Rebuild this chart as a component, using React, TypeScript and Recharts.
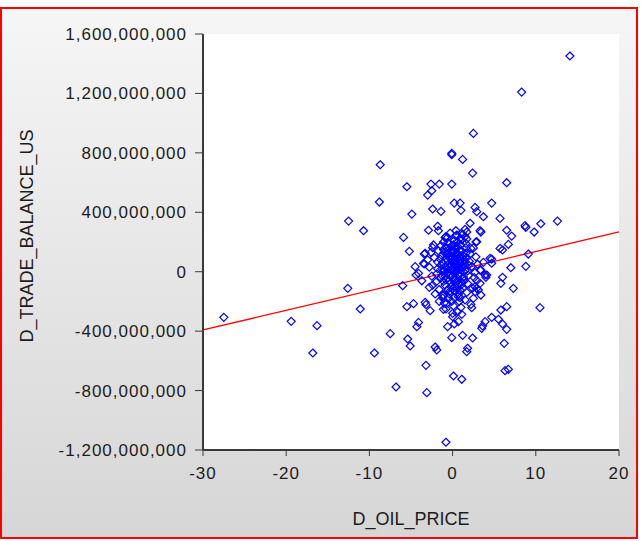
import React from 'react';
import {
  CartesianGrid,
  Label,
  ReferenceLine,
  Scatter,
  ScatterChart,
  XAxis,
  YAxis,
} from 'recharts';

// change in oil price (x) and change in US trade balance, in millions (y)
const dOilPrice = [
  14.1, 8.3, 2.5, -0.1, -0.1, 1.2, -8.7, 2.4, -5.5, -2.6, -1.6, -0.1, 6.5, -2.5, -3.0, -8.8, 0.2, 0.9, 2.7, 2.9,
  4.7, -2.4, -1.4, 1.0, -4.9, 3.7, 5.7, -12.5, -10.7, 12.6, 10.6, 8.7, 8.8, 9.8, 6.5, 7.1, 3.4, 2.1, -1.8, -2.9,
  -5.9, -0.6, 0.4, 1.5, 1.7, 1.1, -5.2, -3.4, 6.0, 6.7, 2.8, 9.1, 8.8, 7.0, 4.7, 3.7, 3.4, 4.0, 6.0, 5.8,
  7.3, -12.6, -6.0, -4.1, -4.4, -3.7, -2.8, -27.5, -19.4, -16.3, -16.8, -11.1, -9.4, -7.5, -6.8, -5.5, -4.7, -3.2, -2.7, -1.1,
  -0.7, -1.2, -4.1, -4.3, -5.4, -5.1, -3.2, -3.1, -2.1, -1.9, -0.6, 0.0, 0.2, 0.7, 1.1, -0.1, 1.2, 2.4, 1.8, 1.7,
  0.1, 1.1, -0.8, 2.3, 3.4, 2.9, 2.7, 4.7, 3.9, 3.6, 3.5, 5.5, 6.0, 6.5, 5.8, 6.5, 10.5, 6.2, 6.3, 6.7,
  5.7, 2.9, 2.2, -2.4, -3.3, -3.4, -4.5, 4.5, 4.1, 3.3, -1.1, 2.5, -3.3, -3.5, -0.8, -1.7, 3.3, 3.3, 3.9, 0.9,
  1.5, 0.5, 4.7, 2.7, 3.1, 0.7,
  // dense cluster around zero
  -0.5, 0.3, 0.8, -1.2, 1.5, -0.2, 0.6, -0.9, 1.1, 0.1, -1.8, 2.0, -0.4, 0.4, 1.3, -1.4, 0.9, -0.7, 0.2, 1.6,
  -2.2, 2.3, -0.1, 0.5, -1.0, 1.8, -0.3, 0.7, -1.6, 1.2, -2.5, 2.6, 0.0, -0.6, 1.0, -1.3, 0.3, -0.8, 1.4, -0.1,
  0.6, -1.1, 2.1, -2.0, 0.8, -0.5, 1.7, -1.7, 0.4, -0.3, -2.8, 2.8, 0.1, 1.0, -1.0, 0.2, -0.2, 0.9, -0.9, 1.9,
  -1.5, 0.5, 0.0, -0.4, 0.7, 1.3, -1.9, 2.4, -2.3, 0.3, 1.1, -0.6, -1.2, 1.5, 0.0, 0.6, -0.8, 2.2, -2.6, 2.7,
  0.2, -0.1, 0.4, -0.3, 0.8, -0.7, 1.2, -1.1, 0.5, -0.5, 0.1, 1.6, -1.4, 0.9, -0.2, 1.8, -1.8, 0.6, -0.9, 1.4,
  -2.1, 2.5, 0.3, -0.4, 1.0, -1.3, 0.7, -0.6, 0.2, 1.2, -3.0, 3.0, -2.4, 2.9, 0.0, 0.9, -1.6, 1.7, -0.1, 0.5,
  -0.3, 0.5, 1.1, -1.0, 0.2, 0.8, -0.6, 1.4, -0.2, 0.4, 1.0, -0.8, 0.0, 0.6, -1.3, 1.7, -0.4, 0.3, 0.9, -0.7,
  1.3, -1.1, 0.1, 0.7, -0.5, 1.5, -0.1, 0.4, 1.2, -0.9, 0.2, 0.8, -1.4, 1.9, -0.2, 0.6, 1.0, -0.6, 0.3, 1.6,
];

const dTradeBalanceM = [
  1452, 1209, 931, 797, 788, 756, 720, 664, 572, 590, 590, 590, 599, 545, 516, 469, 462, 462, 433, 404,
  462, 422, 406, 413, 388, 370, 359, 341, 276, 341, 323, 310, 299, 267, 279, 240, 267, 326, 306, 279,
  231, 231, 276, 285, 267, 258, 137, 119, 146, 184, 200, 119, 36, 27, 85, 63, 11, -38, -38, -78,
  -112, -112, -94, -11, -22, -61, -105, -307, -334, -363, -547, -251, -547, -417, -776, -235, -215, -222, -262, -253,
  -213, -177, -341, -370, -453, -500, -630, -814, -507, -527, -370, -303, -352, -336, -287, -444, -428, -446, -515, -538,
  -702, -724, -1148, -242, -157, -112, -135, -307, -336, -365, -381, -320, -352, -388, -258, -235, -242, -482, -666, -657,
  157, 202, 157, 162, 124, 52, 34, 90, -22, -78, -157, -179, -206, 56, 236, 276, 276, 11, -22, 225,
  236, 247, 57, -101, -123, -168,
  // dense cluster around zero
  120, 85, 40, 60, 10, -20, -60, -90, 140, 180, 20, 70, 30, -5, -35, -40, 100, 160, 210, 190,
  95, 35, 65, 130, 5, -80, -130, -150, -120, -110, -30, -40, 0, 75, 55, 110, -95, -55, 80, 150,
  170, 200, 120, -70, -200, -180, -140, 140, 240, 260, 30, 100, -230, -240, -210, 110, 45, 15, 35, 45,
  85, 25, 90, -60, -25, 105, -15, -110, 180, 155, 215, 195, -160, -190, -280, -270, -250, -220, 130, -5,
  60, 10, 50, 95, 70, -10, 30, -65, -110, 100, -45, 160, 175, -175, -100, 5, 65, 200, 230, -60,
  -150, 160, 20, -150, -90, 20, 115, 140, -175, 250, 80, 50, -90, -60, 130, -125, -200, 220, -200, -40,
  40, 115, -70, 130, 75, -20, 20, 50, -75, 165, 85, 90, -115, 35, -25, 95, 190, -130, 55, 120,
  0, 150, 140, -85, -5, 65, 175, 5, -45, -30, -60, 145, 45, -25, 15, 90, 180, -120, 70, 125,
];

const xTicks = [-30, -20, -10, 0, 10, 20];
const yTicks = [-1200000000, -800000000, -400000000, 0, 400000000, 800000000, 1200000000, 1600000000];

// least squares fit: D_TRADE_BALANCE_US = a + b * D_OIL_PRICE
const fitIntercept = 4000000;
const fitSlope = 13200000;

const points = dOilPrice.map((x, i) => ({ x, y: dTradeBalanceM[i] * 1000000 }));

const FONT = '"Liberation Sans", Arial, sans-serif';
const AXIS_COLOR = '#3a3a3a';
const TEXT_COLOR = '#1c1c1c';

const Diamond = (props: any) => {
  const { cx, cy } = props;
  if (cx == null || cy == null) return null;
  const r = 4;
  return (
    <path
      d={`M${cx},${cy - r}L${cx + r},${cy}L${cx},${cy + r}L${cx - r},${cy}Z`}
      fill='none'
      stroke='#0000ff'
      strokeWidth={1.2}
    />
  );
};

const App = () => {
  const [xMin, xMax] = [xTicks[0], xTicks[xTicks.length - 1]];
  const [yMin, yMax] = [yTicks[0], yTicks[yTicks.length - 1]];

  return (
    <div
      style={{
        position: 'absolute',
        left: 0,
        top: 0,
        width: 643,
        height: 541,
        background: '#ffffff',
      }}
    >
      <div
        style={{
          position: 'absolute',
          left: 0,
          top: 7,
          width: 638,
          height: 532,
          boxSizing: 'border-box',
          border: '2px solid #ff0000',
          background: 'linear-gradient(#f6f6f6, #d6d6d6)',
        }}
      />
      <div style={{ position: 'absolute', left: 0, top: 0 }}>
        <ScatterChart
          width={643}
          height={541}
          margin={{ top: 34, right: 24, bottom: 0, left: 0 }}
        >
          <CartesianGrid horizontal={false} vertical={false} fill='#ffffff' />
          <XAxis
            type='number'
            dataKey='x'
            domain={[xMin, xMax]}
            ticks={xTicks}
            height={91}
            tickSize={6}
            tickMargin={11}
            allowDataOverflow
            axisLine={{ stroke: AXIS_COLOR, strokeWidth: 2 }}
            tickLine={{ stroke: AXIS_COLOR }}
            tick={{ fill: TEXT_COLOR, fontSize: 17, fontFamily: FONT, letterSpacing: 1 }}
          >
            <Label
              content={() => (
                <text
                  x={411}
                  y={525}
                  textAnchor='middle'
                  fill={TEXT_COLOR}
                  fontSize={18}
                  fontFamily={FONT}
                >
                  D_OIL_PRICE
                </text>
              )}
            />
          </XAxis>
          <XAxis
            xAxisId='top'
            orientation='top'
            type='number'
            domain={[xMin, xMax]}
            height={0}
            tick={false}
            tickLine={false}
            axisLine={{ stroke: AXIS_COLOR, strokeWidth: 2 }}
          />
          <YAxis
            type='number'
            dataKey='y'
            domain={[yMin, yMax]}
            ticks={yTicks}
            width={203}
            tickSize={8}
            tickMargin={8}
            allowDataOverflow
            tickFormatter={(v: number) => v.toLocaleString('en-US')}
            axisLine={{ stroke: AXIS_COLOR, strokeWidth: 2 }}
            tickLine={{ stroke: AXIS_COLOR }}
            tick={{ fill: TEXT_COLOR, fontSize: 17, fontFamily: FONT, letterSpacing: 1 }}
          >
            <Label
              content={() => (
                <text
                  x={33}
                  y={236}
                  transform='rotate(-90 33 236)'
                  textAnchor='middle'
                  fill={TEXT_COLOR}
                  fontSize={18}
                  fontFamily={FONT}
                >
                  D_TRADE_BALANCE_US
                </text>
              )}
            />
          </YAxis>
          <YAxis
            yAxisId='right'
            orientation='right'
            type='number'
            domain={[yMin, yMax]}
            width={0}
            tick={false}
            tickLine={false}
            axisLine={{ stroke: AXIS_COLOR, strokeWidth: 2 }}
          />
          <Scatter data={points} shape={<Diamond />} isAnimationActive={false} />
          <ReferenceLine
            segment={[
              { x: xMin, y: fitIntercept + fitSlope * xMin },
              { x: xMax, y: fitIntercept + fitSlope * xMax },
            ]}
            stroke='#ff0000'
            strokeWidth={1.3}
          />
        </ScatterChart>
      </div>
    </div>
  );
};

export default App;
